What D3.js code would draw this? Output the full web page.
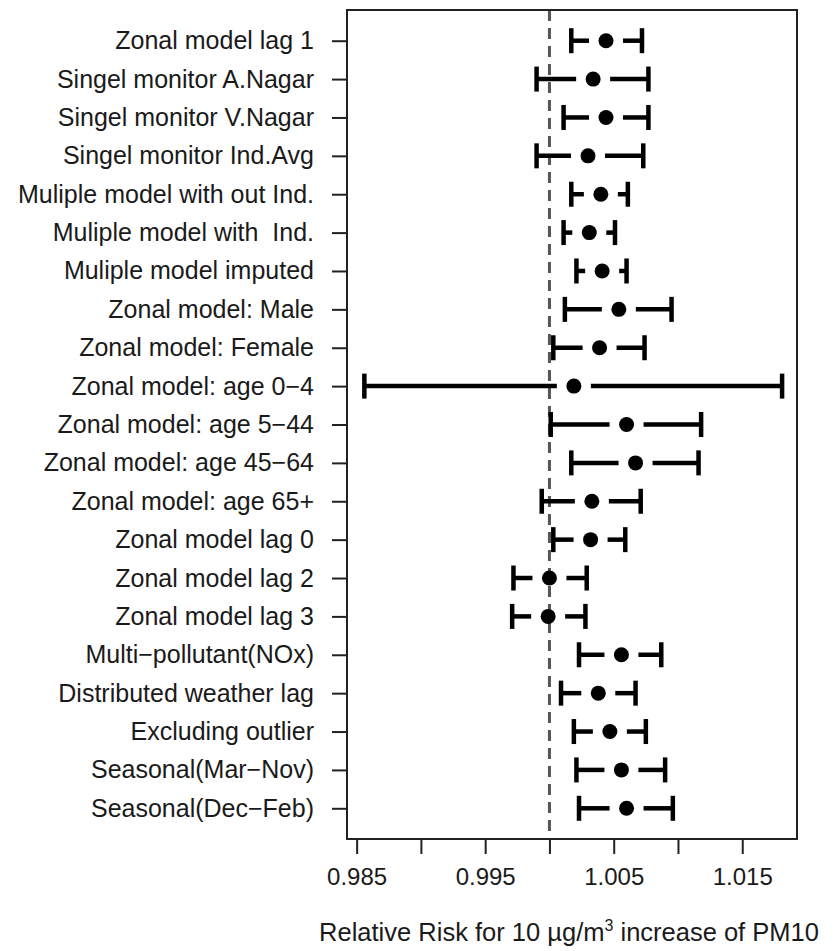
<!DOCTYPE html>
<html>
<head>
<meta charset="utf-8">
<script src="https://cdn.jsdelivr.net/npm/d3@7"></script>
<style>
  body { margin: 0; background: #fff; }
  svg text { font-family: "Liberation Sans", Arial, Helvetica, sans-serif; fill: #1a1a1a; }
</style>
</head>
<body>
<div id="forest_svg"></div>
<script>

var labels = [
	"Zonal model lag 1",
	"Singel monitor A.Nagar",
	"Singel monitor V.Nagar",
	"Singel monitor Ind.Avg",
	"Muliple model with out Ind.",
	"Muliple model with  Ind.",
	"Muliple model imputed",
	"Zonal model: Male",
	"Zonal model: Female",
	"Zonal model: age 0\u22124",
	"Zonal model: age 5\u221244",
	"Zonal model: age 45\u221264",
	"Zonal model: age 65+",
	"Zonal model lag 0",
	"Zonal model lag 2",
	"Zonal model lag 3",
	"Multi\u2212pollutant(NOx)",
	"Distributed weather lag",
	"Excluding outlier",
	"Seasonal(Mar\u2212Nov)",
	"Seasonal(Dec\u2212Feb)"
];

var estimates = [1.0044, 1.0034, 1.0044, 1.0030, 1.0040, 1.0031, 1.0041, 1.0054, 1.0039, 1.0019, 1.0060,
                 1.0067, 1.0033, 1.0032, 1.0000, 0.9999, 1.0056, 1.0038, 1.0047, 1.0056, 1.0060];
var lower     = [1.0017, 0.9990, 1.0011, 0.9990, 1.0017, 1.0011, 1.0021, 1.0012, 1.0003, 0.9856, 1.0001,
                 1.0017, 0.9994, 1.0003, 0.9972, 0.9971, 1.0023, 1.0009, 1.0019, 1.0021, 1.0023];
var upper     = [1.0072, 1.0077, 1.0077, 1.0073, 1.0061, 1.0051, 1.0060, 1.0095, 1.0074, 1.0181, 1.0118,
                 1.0116, 1.0071, 1.0059, 1.0029, 1.0028, 1.0087, 1.0067, 1.0075, 1.0090, 1.0096];

var x_ticks = [0.985, 0.990, 0.995, 1.000, 1.005, 1.010, 1.015];
var x_tick_labels = [0.985, 0.995, 1.005, 1.015];
var ref_line = 1.000;


function draw_forest() {

	var rows = [];
	labels.map(function(name, i) {
		rows.push({'name': name, 'idx': i + 1, 'est': estimates[i], 'lo': lower[i], 'hi': upper[i]});
	});

	var margin = {top: 10, right: 42, bottom: 112, left: 347},
	    width = 839 - margin.left - margin.right,
	    height = 951 - margin.top - margin.bottom;

	// R style 4% padding around the data range
	var x = d3.scaleLinear()
			.domain([0.98425, 1.01926])
			.range([0, width]);
	var y = d3.scaleLinear()
			.domain([0.2, labels.length + 0.8])
			.range([0, height]);

	var svg = d3.select("#forest_svg").append("svg")
				.attr("width", 839)
				.attr("height", 951)
				.append("g")
				.attr("transform", "translate(" + margin.left + "," + margin.top + ")");

	// bottom axis ticks
	var xAxis = d3.axisBottom(x)
			.tickValues(x_ticks)
			.tickSize(15)
			.tickPadding(14)
			.tickFormat(function(d) {
				return x_tick_labels.some(function(v) { return Math.abs(v - d) < 1e-9; }) ? d3.format(".3f")(d) : "";
			});

	var gx = svg.append("g")
		.attr("class", "x axis")
		.attr("transform", "translate(0," + height + ")")
		.call(xAxis);
	gx.select(".domain").remove();
	gx.selectAll("line").attr("stroke", "#222").attr("stroke-width", 2);
	gx.selectAll("text").style("font-size", "24px").attr("fill", "#1a1a1a");

	// left axis with row names
	var yAxis = d3.axisLeft(y)
			.tickValues(rows.map(function(d) { return d.idx; }))
			.tickSize(15)
			.tickPadding(18)
			.tickFormat(function(d) { return labels[d - 1]; });

	var gy = svg.append("g")
		.attr("class", "y axis")
		.call(yAxis);
	gy.select(".domain").remove();
	gy.selectAll("line").attr("stroke", "#222").attr("stroke-width", 2);
	gy.selectAll("text")
		.style("font-size", "25px")
		.style("white-space", "pre")
		.attr("fill", "#1a1a1a");

	// reference line at RR = 1
	svg.append("line")
		.attr("x1", x(ref_line)).attr("x2", x(ref_line))
		.attr("y1", 0).attr("y2", height)
		.attr("stroke", "#555")
		.attr("stroke-width", 3)
		.attr("stroke-dasharray", "11,7");

	var gap = 17, cap = 12.5;

	var bars = svg.selectAll(".ci")
		.data(rows)
		.enter().append("g")
		.attr("class", "ci");

	// interval drawn in two pieces, leaving room around the point
	bars.append("line")
		.attr("x1", function(d) { return x(d.lo); })
		.attr("x2", function(d) { return Math.max(x(d.lo), x(d.est) - gap); })
		.attr("y1", function(d) { return y(d.idx); })
		.attr("y2", function(d) { return y(d.idx); })
		.attr("stroke", "#000").attr("stroke-width", 4.5);
	bars.append("line")
		.attr("x1", function(d) { return Math.min(x(d.hi), x(d.est) + gap); })
		.attr("x2", function(d) { return x(d.hi); })
		.attr("y1", function(d) { return y(d.idx); })
		.attr("y2", function(d) { return y(d.idx); })
		.attr("stroke", "#000").attr("stroke-width", 4.5);

	// caps
	bars.append("line")
		.attr("x1", function(d) { return x(d.lo); })
		.attr("x2", function(d) { return x(d.lo); })
		.attr("y1", function(d) { return y(d.idx) - cap; })
		.attr("y2", function(d) { return y(d.idx) + cap; })
		.attr("stroke", "#000").attr("stroke-width", 4.5);
	bars.append("line")
		.attr("x1", function(d) { return x(d.hi); })
		.attr("x2", function(d) { return x(d.hi); })
		.attr("y1", function(d) { return y(d.idx) - cap; })
		.attr("y2", function(d) { return y(d.idx) + cap; })
		.attr("stroke", "#000").attr("stroke-width", 4.5);

	// point estimates
	bars.append("circle")
		.attr("cx", function(d) { return x(d.est); })
		.attr("cy", function(d) { return y(d.idx); })
		.attr("r", 7.5)
		.attr("fill", "#000");

	// plot frame
	svg.append("rect")
		.attr("x", 0).attr("y", 0)
		.attr("width", width).attr("height", height)
		.attr("fill", "none")
		.attr("stroke", "#222")
		.attr("stroke-width", 2);

	// x axis title
	var title = svg.append("text")
		.attr("x", width / 2 - 3)
		.attr("y", height + 102)
		.attr("text-anchor", "middle")
		.style("font-size", "25.5px");
	title.append("tspan").text("Relative Risk for 10 \u00b5g/m");
	title.append("tspan").attr("dy", -10).style("font-size", "16px").text("3");
	title.append("tspan").attr("dy", 10).text(" increase of PM10");
}

draw_forest();

</script>
</body>
</html>
